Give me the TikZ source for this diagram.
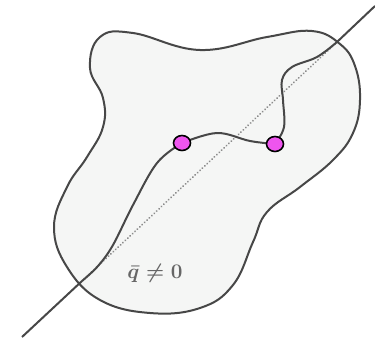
\documentclass[tikz,border=0pt]{standalone}
\usetikzlibrary{shapes.geometric}
\begin{document}
\begin{tikzpicture}[x=1pt,y=-1pt,
  outline/.style={draw=black!72,line width=2pt},
  blobfill/.style={fill={rgb,255:red,245;green,246;blue,245}},
  dotline/.style={draw=black!45,line width=2pt,line cap=round,dash pattern=on 0.1pt off 3.2pt},
  pinkdot/.style={ellipse,draw=black,line width=1.6pt,fill={rgb,255:red,238;green,85;blue,238},minimum width=17pt,minimum height=15pt,inner sep=0pt},
  label/.style={text=black!60,font=\fontsize{20}{22}\selectfont\boldmath}]
\useasboundingbox (0,0) rectangle (375,340);
\fill[white] (0,0) rectangle (375,340);
\coordinate (lA) at (22,337);
\coordinate (lB) at (375,6);
\coordinate (iA) at (82,281);
\coordinate (iB) at (337,42);
\coordinate (c1) at (182,143);
\coordinate (c2) at (275,144);
\draw[outline,blobfill] plot[smooth cycle,tension=0.7] coordinates {
 (100,37) (133,33) (200,50) (267,37) (312,31) (340,44) (355,66) (360,100)
 (353,133) (333,160) (300,187) (267,212) (253,242) (233,285) (200,308)
 (150,313) (100,300) (67,267) (54,227) (67,187) (87,157) (103,127)
 (103,98) (90,68)};
\draw[dotline] (iA) -- (iB);
\draw[outline] (lA) -- (iA);
\draw[outline] (iB) -- (lB);
\draw[outline] plot[smooth,tension=0.6] coordinates {
 (iA) (98,266) (113,245) (133,205) (157,163) (c1)};
\draw[outline] plot[smooth,tension=0.6] coordinates {
 (c1) (217,133) (250,141) (c2)};
\draw[outline] plot[smooth,tension=0.6] coordinates {
 (c2) (284,127) (283,100) (282,80) (292,67) (317,57) (iB)};
\node[label] (q) at (155,273) {$\bar q\neq 0$};
\node[pinkdot] (d1) at (c1) {};
\node[pinkdot] (d2) at (c2) {};
\end{tikzpicture}
\end{document}
